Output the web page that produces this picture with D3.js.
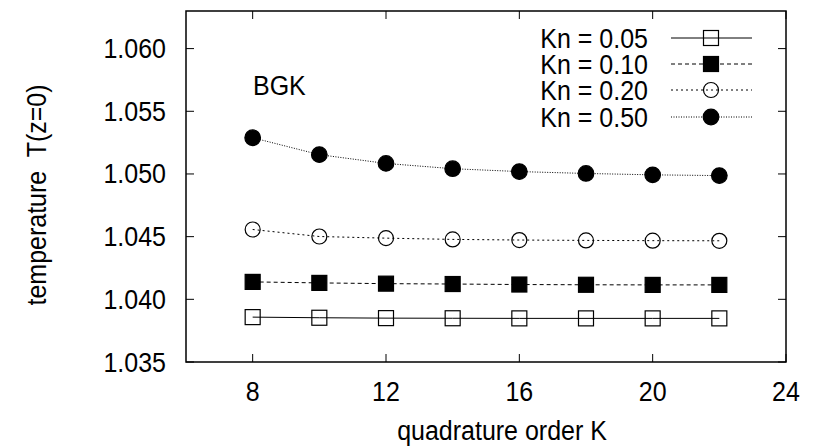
<!DOCTYPE html>
<html><head><meta charset="utf-8">
<script src="https://cdn.jsdelivr.net/npm/d3@7"></script>
<style>body{margin:0;background:#fff}svg{display:block}text{font-family:"Liberation Sans",Arial,sans-serif;fill:#000}</style>
</head><body>
<script>
const orders = [8, 10, 12, 14, 16, 18, 20, 22];
const seriesNames = ["Kn = 0.05", "Kn = 0.10", "Kn = 0.20", "Kn = 0.50"];
const kn005 = [1.03858, 1.03853, 1.03850, 1.03849, 1.03848, 1.03848, 1.03848, 1.03848];
const kn010 = [1.04139, 1.04131, 1.04125, 1.04122, 1.04118, 1.04116, 1.04115, 1.04115];
const kn020 = [1.04557, 1.04501, 1.04488, 1.04478, 1.04473, 1.04470, 1.04468, 1.04467];
const kn050 = [1.05289, 1.05154, 1.05084, 1.05042, 1.05019, 1.05004, 1.04993, 1.04987];
const xTicks = [8, 12, 16, 20, 24];
const yTicks = [1.035, 1.040, 1.045, 1.050, 1.055, 1.060];

const W = 821, H = 448;
const m = {left: 186, right: 786, top: 11, bottom: 362};
const x = d3.scaleLinear().domain([6, 24]).range([m.left, m.right]);
const y = d3.scaleLinear().domain([1.035, 1.063]).range([m.bottom, m.top]);

const svg = d3.select("body").append("svg").attr("width", W).attr("height", H);

const FS = 25, SY = 1.08;
function txt(g, tx, ty, str, anchor, rot) {
  return g.append("text")
    .attr("transform", `translate(${tx},${ty}) rotate(${rot || 0}) scale(1,${SY})`)
    .attr("text-anchor", anchor).attr("font-size", FS).attr("xml:space", "preserve").text(str);
}

const styles = [
  {dash: null, marker: "square", fill: "none"},
  {dash: "4,3", marker: "square", fill: "#000"},
  {dash: "2,3", marker: "circle", fill: "none"},
  {dash: "1,1.5", marker: "circle", fill: "#000"}
];
const allSeries = [kn005, kn010, kn020, kn050];

// ticks (inward, mirrored)
const tl = 8;
const ax = svg.append("g").attr("stroke", "#000").attr("stroke-width", 1);
xTicks.forEach(t => {
  ax.append("line").attr("x1", x(t)).attr("x2", x(t)).attr("y1", m.bottom).attr("y2", m.bottom - tl);
  ax.append("line").attr("x1", x(t)).attr("x2", x(t)).attr("y1", m.top).attr("y2", m.top + tl);
});
yTicks.forEach(t => {
  ax.append("line").attr("x1", m.left).attr("x2", m.left + tl).attr("y1", y(t)).attr("y2", y(t));
  ax.append("line").attr("x1", m.right).attr("x2", m.right - tl).attr("y1", y(t)).attr("y2", y(t));
});

// tick labels
const gl = svg.append("g");
xTicks.forEach(t => txt(gl, x(t), 401, String(t), "middle"));
yTicks.forEach(t => txt(gl, 166, y(t) + 9.5, d3.format(".3f")(t), "end"));

// axis labels
txt(gl, 502, 440, "quadrature order K", "middle");
txt(gl, 46, 195, "temperature  T(z=0)", "middle", -90);
txt(gl, 253, 95, "BGK", "start");

// series
const line = d3.line().x((d, i) => x(orders[i])).y(d => y(d));
function drawMarker(g, cx, cy, s) {
  if (s.marker === "square") {
    g.append("rect").attr("x", cx - 7.5).attr("y", cy - 7.5).attr("width", 15).attr("height", 15)
      .attr("fill", s.fill).attr("stroke", "#000").attr("stroke-width", 1.2);
  } else {
    g.append("circle").attr("cx", cx).attr("cy", cy).attr("r", s.fill === "none" ? 7.5 : 7.8)
      .attr("fill", s.fill).attr("stroke", "#000").attr("stroke-width", 1.2);
  }
}
allSeries.forEach((vals, k) => {
  const s = styles[k];
  const g = svg.append("g");
  g.append("path").attr("d", line(vals)).attr("fill", "none").attr("stroke", "#000")
    .attr("stroke-width", 1).attr("stroke-dasharray", s.dash);
  vals.forEach((v, i) => drawMarker(g, x(orders[i]), y(v), s));
});

// legend
const legY = [38, 64, 90, 117];
seriesNames.forEach((n, k) => {
  const s = styles[k];
  const g = svg.append("g");
  txt(g, 648, legY[k] + 9.5, n, "end");
  g.append("line").attr("x1", 671).attr("x2", 752).attr("y1", legY[k]).attr("y2", legY[k])
    .attr("stroke", "#000").attr("stroke-width", 1).attr("stroke-dasharray", s.dash);
  drawMarker(g, 711, legY[k], s);
});

// frame
svg.append("rect").attr("x", m.left).attr("y", m.top).attr("width", m.right - m.left)
  .attr("height", m.bottom - m.top).attr("fill", "none").attr("stroke", "#000").attr("stroke-width", 1.5);
</script>
</body></html>
